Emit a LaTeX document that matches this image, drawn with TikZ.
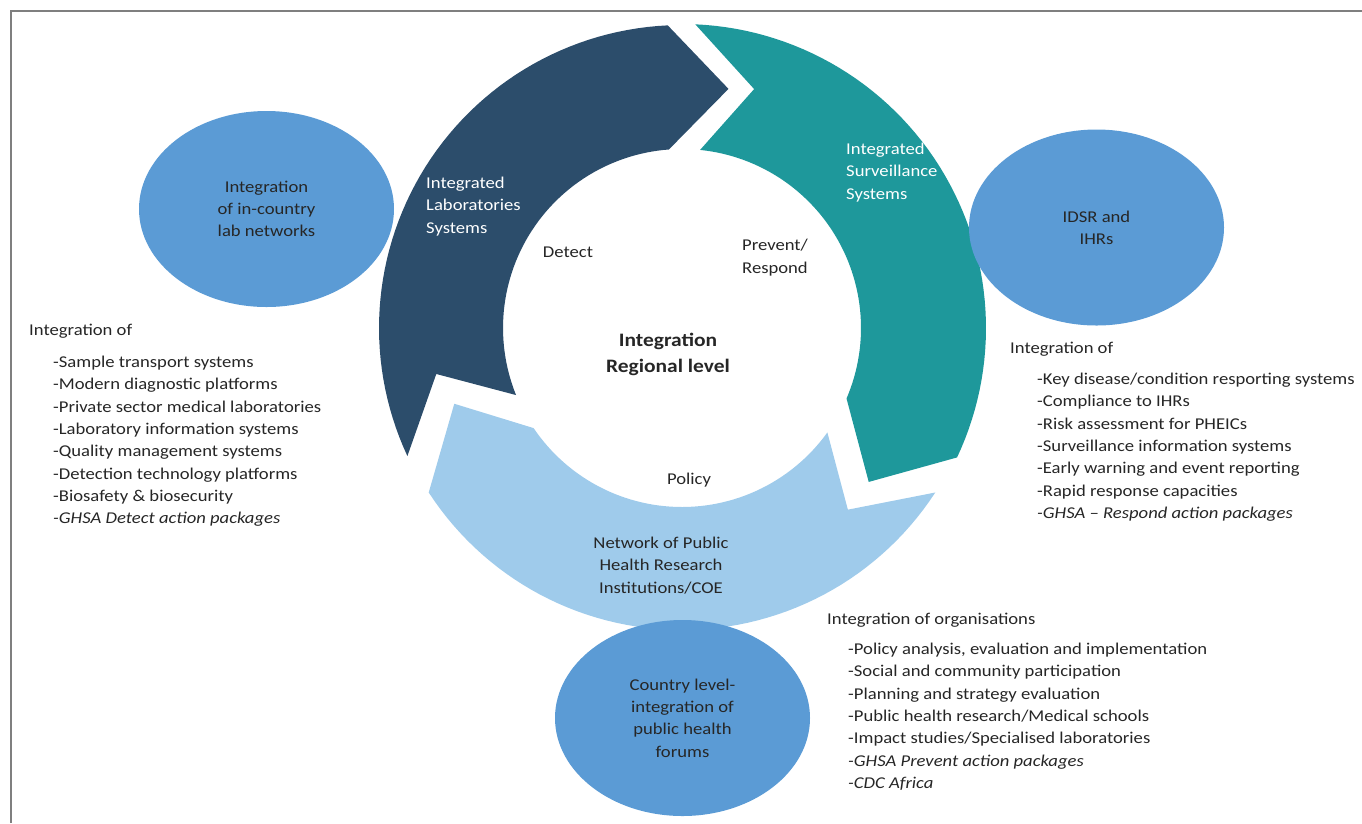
\documentclass[tikz,border=0pt]{standalone}
\usepackage{fontspec}
\setmainfont{Carlito}[FakeStretch=1.13]
\usetikzlibrary{shapes.geometric}
\definecolor{darkc}{HTML}{2C4D6B}
\definecolor{tealc}{HTML}{1E989B}
\definecolor{lightc}{HTML}{9FCBEB}
\definecolor{ellc}{HTML}{5B9BD5}
\definecolor{textc}{HTML}{262626}
\definecolor{framec}{HTML}{7F7F7F}
\begin{document}
\begin{tikzpicture}[x=1pt,y=-1pt,
  base/.style={inner sep=0pt, font=\fontsize{16.5}{22.3}\selectfont, text=textc},
  item/.style={base, anchor=base west},
  ringlbl/.style={base, text=white, align=left, anchor=west},
  blob/.style={base, ellipse, fill=ellc, minimum width=255pt, minimum height=196pt, align=center},
  centre/.style={inner sep=0pt, font=\fontsize{19}{26}\selectfont\bfseries, text=textc, align=center}]
\useasboundingbox (0,0) rectangle (1362,823);
% frame
\coordinate (fbl) at (11,823);
\coordinate (ftl) at (11,11);
\coordinate (ftr) at (1362,11);
\draw[framec, line width=2pt] (fbl) -- (ftl) -- (ftr);
% circular arrows
\begin{scope}[shift={(682,328)}]
  \fill[darkc] (155:303) -- (169.4:250) -- (158:179)
     -- plot[domain=158:265.8, samples=60, variable=\t] (\t:179)
     -- (281:243.6) -- (267.3:303)
     -- plot[domain=267.3:155, samples=60, variable=\t] (\t:303) -- cycle;
  \fill[tealc] (272.5:304) -- (286.8:249.6) -- (275.8:179)
     -- plot[domain=275.8:383.2, samples=60, variable=\t] (\t:179)
     -- (399.5:242) -- (385.2:304)
     -- plot[domain=385.2:272.5, samples=60, variable=\t] (\t:304) -- cycle;
  \fill[lightc] (33:302) -- (47.6:246) -- (35.7:179)
     -- plot[domain=35.7:146, samples=60, variable=\t] (\t:179)
     -- (161.6:240) -- (147:302)
     -- plot[domain=147:33, samples=60, variable=\t] (\t:302) -- cycle;
\end{scope}
% ring labels
\node[ringlbl] (lab) at (426,206.5) {Integrated\\Laboratories\\Systems};
\node[ringlbl] (surv) at (846,172.5) {Integrated\\Surveillance\\Systems};
\node[base] (detect) at (568,252) {Detect};
\node[base, align=left, anchor=west] (prev) at (742,257.5) {Prevent/\\Respond};
\node[centre] (mid) at (668,354) {Integration\\Regional level};
\node[base] (policy) at (689,480) {Policy};
\node[base, align=center] (net) at (661,565.5) {Network of Public\\Health Research\\Institutions/COE};
% ellipses
\node[blob] (e1) at (266.5,209) {Integration\\of in-country\\lab networks};
\node[blob] (e2) at (1096.5,227.5) {IDSR and\\IHRs};
\node[blob] (e3) at (682.5,718) {Country level-\\integration of\\public health\\forums};
% lists
\node[item] (lh) at (29,335.5) {Integration of};
\foreach [count=\i] \s in {-Sample transport systems, -Modern diagnostic platforms,
  -Private sector medical laboratories, -Laboratory information systems,
  -Quality management systems, -Detection technology platforms,
  -Biosafety \& biosecurity, {\itshape -GHSA Detect action packages}}
  \node[item] (l\i) at (53,367.5+22.3*\i-22.3) {\s};
\node[item] (rh) at (1010,353.5) {Integration of};
\foreach [count=\i] \s in {-Key disease/condition resporting systems, -Compliance to IHRs,
  -Risk assessment for PHEICs, -Surveillance information systems,
  -Early warning and event reporting, -Rapid response capacities,
  {\itshape -GHSA -- Respond action packages}}
  \node[item] (r\i) at (1037,384.5+22.3*\i-22.3) {\s};
\node[item] (bh) at (827,624.5) {Integration of organisations};
\foreach [count=\i] \s in {{-Policy analysis, evaluation and implementation},
  -Social and community participation, -Planning and strategy evaluation,
  -Public health research/Medical schools, -Impact studies/Specialised laboratories,
  {\itshape -GHSA Prevent action packages}, {\itshape -CDC Africa}}
  \node[item] (b\i) at (848,654.5+22.3*\i-22.3) {\s};
\end{tikzpicture}
\end{document}
